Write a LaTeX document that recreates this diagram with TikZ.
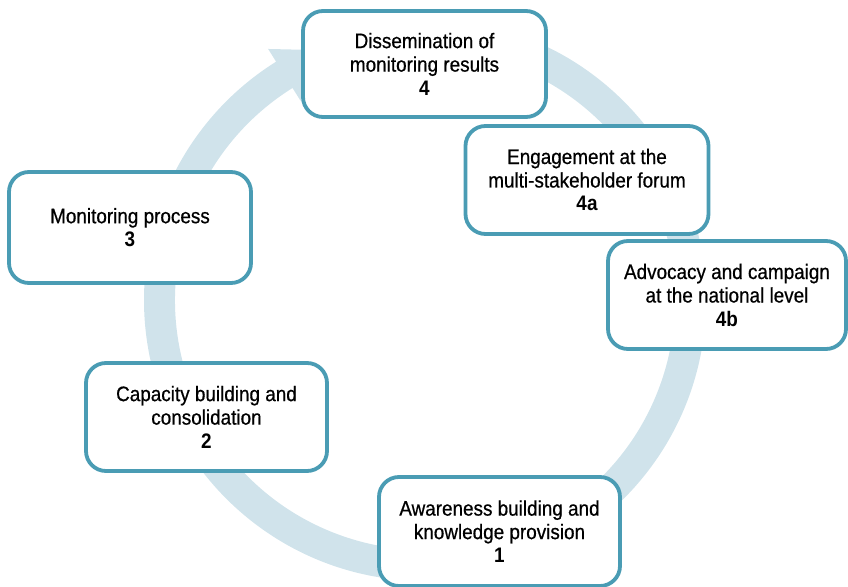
\documentclass[tikz,border=0pt]{standalone}
\usepackage{fontspec}
\setmainfont{Liberation Sans}[FakeStretch=0.9, FakeBold=0.6]
\newfontfamily\stagenum{Liberation Sans Bold}[FakeStretch=0.9]
\definecolor{stageblue}{HTML}{4A9CB4}
\definecolor{ringblue}{HTML}{D0E3EB}
\newcommand{\stagenumber}[1]{{\stagenum #1}}
\begin{document}
\begin{tikzpicture}[x=1pt,y=1pt,
  stage/.style={draw=stageblue, line width=3.8pt, rounded corners=20pt,
    fill=white, align=center, text=black, inner sep=0pt,
    font=\fontsize{21}{23.5}\selectfont},
]
\useasboundingbox (0,0) rectangle (848,586);

% circular arrow running clockwise, head at the upper left
\begin{scope}[shift={(425,286)}]
  \fill[ringblue] (90:281) arc[start angle=90, end angle=-238, radius=281]
    -- (122:296) -- (110:265.5) -- (122:235) -- (122:250)
    arc[start angle=-238, end angle=90, radius=250] -- cycle;
\end{scope}

% stages of the cycle
\node[stage, minimum width=243pt, minimum height=106pt] (s4) at (424.5,522)
  {Dissemination of\\monitoring results\\\stagenumber{4}};
\node[stage, minimum width=243pt, minimum height=108pt] (s4a) at (587,406)
  {Engagement at the\\multi-stakeholder forum\\\stagenumber{4a}};
\node[stage, minimum width=238pt, minimum height=108pt] (s4b) at (727,291)
  {Advocacy and campaign\\at the national level\\\stagenumber{4b}};
\node[stage, minimum width=242pt, minimum height=111pt] (s3) at (130,358.5)
  {Monitoring process\\\stagenumber{3}};
\node[stage, minimum width=241pt, minimum height=108pt] (s2) at (206.5,169)
  {Capacity building and\\consolidation\\\stagenumber{2}};
\node[stage, minimum width=241pt, minimum height=109pt] (s1) at (499.5,54.5)
  {Awareness building and\\knowledge provision\\\stagenumber{1}};
\end{tikzpicture}
\end{document}
